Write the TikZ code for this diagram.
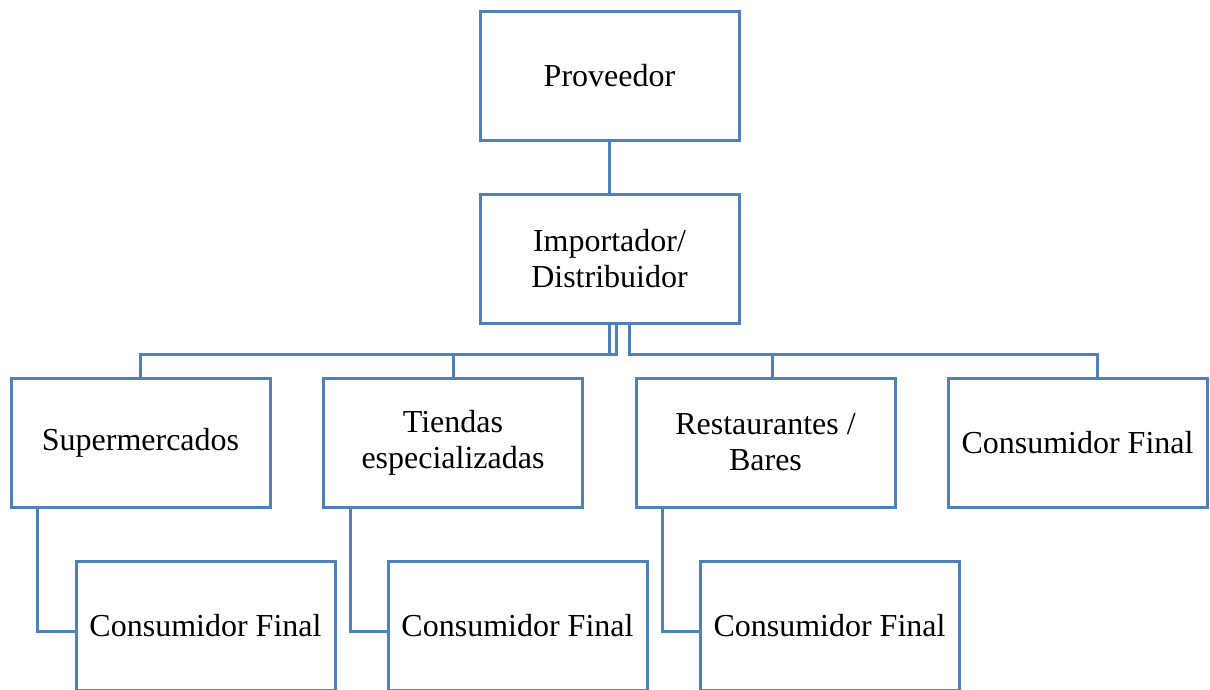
\documentclass[tikz,border=0pt]{standalone}
\usepackage{fontspec}
\setmainfont{Liberation Serif}
\usepackage{tikz}
\usetikzlibrary{calc}
\definecolor{chartblue}{HTML}{4F81BD}
\tikzset{
  box/.style={draw=chartblue, line width=3pt, minimum width=259pt, minimum height=129pt,
    inner sep=0pt, align=center, font=\fontsize{32}{36}\selectfont},
  link/.style={draw=chartblue, line width=3pt}
}

\begin{document}
\begin{tikzpicture}[x=1pt, y=-1pt]
    \useasboundingbox (0,0) rectangle (1210,689);
    \node[box] (P) at (609.5,75.5) {Proveedor};
    \node[box] (I) at (609.5,259) {Importador/\\Distribuidor};
    \node[box] (S) at (140.5,442.5) {Supermercados};
    \node[box] (T) at (453,442.5) {Tiendas\\especializadas};
    \node[box] (R) at (765.5,442.5) {Restaurantes /\\Bares};
    \node[box] (C) at (1077.5,442.5) {Consumidor Final};
    \node[box] (CS) at (205.5,625.5) {Consumidor Final};
    \node[box] (CT) at (517.5,625.5) {Consumidor Final};
    \node[box] (CR) at (829.5,625.5) {Consumidor Final};
    %\node[box] (CC) at (1077.5,625.5) {Consumidor Final};
    \path[link] (P) -- (I);
    \path[link] (I.south) -- ++(0,29) -| ([xshift=-0.5pt]S.north);
    \path[link] ([xshift=6.5pt]I.south) -- ++(0,29) -| (T.north);
    \path[link] ([xshift=19.5pt]I.south) -- ++(0,29) -| ([xshift=6.5pt]R.north);
    \path[link] ([xshift=19.5pt]I.south) -- ++(0,29) -| ([xshift=19.5pt]C.north);
    \path[link] ([xshift=-103.5pt]S.south) |- ([yshift=-5.5pt]CS.west);
    \path[link] ([xshift=-103pt]T.south) |- ([yshift=-5.5pt]CT.west);
    \path[link] ([xshift=-103.5pt]R.south) |- ([yshift=-5.5pt]CR.west);
  \end{tikzpicture}
\end{document}
